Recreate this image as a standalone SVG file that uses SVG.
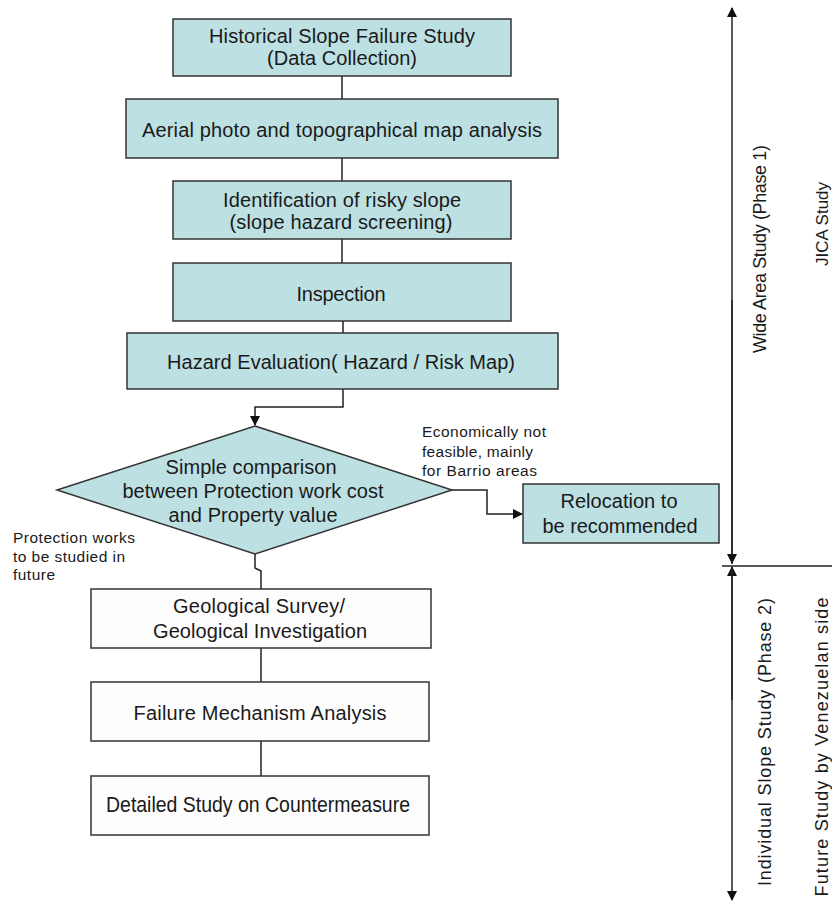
<svg xmlns="http://www.w3.org/2000/svg" width="832" height="902" viewBox="0 0 832 902">
<style>
.box{fill:#bde0e3;stroke:#333;stroke-width:1.5}
.wbox{fill:#fdfdfd;stroke:#333;stroke-width:1.5}
.t{font-family:"Liberation Sans",Arial,sans-serif;font-size:20px;fill:#1a1a1a;text-anchor:middle}
.s{font-family:"Liberation Sans",Arial,sans-serif;font-size:15.5px;fill:#1a1a1a}
.r{font-family:"Liberation Sans",Arial,sans-serif;font-size:18px;fill:#1a1a1a;text-anchor:middle}
.c{fill:none;stroke:#222;stroke-width:1.5}
</style>
<defs>
<marker id="ah" markerWidth="10" markerHeight="10" refX="9" refY="5" orient="auto" markerUnits="userSpaceOnUse">
<path d="M0,0 L10,5 L0,10 Z" fill="#111"/>
</marker>
</defs>
<rect width="832" height="902" fill="#fff"/>
<g id="connectors">
<line class="c" x1="342" y1="76" x2="342" y2="99"/>
<line class="c" x1="342" y1="158" x2="342" y2="181"/>
<line class="c" x1="342" y1="239" x2="342" y2="263"/>
<line class="c" x1="343" y1="321" x2="343" y2="333"/>
<polyline class="c" points="343,389 343,407 255,407 255,425" marker-end="url(#ah)"/>
<polyline class="c" points="452,490 487,490 487,514 522,514" marker-end="url(#ah)"/>
<polyline class="c" points="255,554 255,568 261,571 261,589"/>
<line class="c" x1="261" y1="648" x2="261" y2="682"/>
<line class="c" x1="261" y1="741" x2="261" y2="776"/>
<line class="c" x1="732" y1="564" x2="732" y2="8" marker-end="url(#ah)"/>
<line class="c" x1="732" y1="300" x2="732" y2="563" marker-end="url(#ah)"/>
<line class="c" x1="732" y1="700" x2="732" y2="567" marker-end="url(#ah)"/>
<line class="c" x1="732" y1="568" x2="732" y2="900" marker-end="url(#ah)"/>
<line class="c" x1="722" y1="566" x2="832" y2="566"/>
</g>
<g id="n1"><rect class="box" x="173" y="19" width="338" height="57"/>
<text class="t" x="342" y="43" textLength="266">Historical Slope Failure Study</text>
<text class="t" x="342" y="65" textLength="150">(Data Collection)</text></g>
<g id="n2"><rect class="box" x="126" y="99" width="432" height="59"/>
<text class="t" x="342" y="137" textLength="400">Aerial photo and topographical map analysis</text></g>
<g id="n3"><rect class="box" x="173" y="181" width="338" height="58"/>
<text class="t" x="342" y="207" textLength="238">Identification of risky slope</text>
<text class="t" x="341" y="229" textLength="223">(slope hazard screening)</text></g>
<g id="n4"><rect class="box" x="173" y="263" width="338" height="58"/>
<text class="t" x="341" y="301" textLength="89">Inspection</text></g>
<g id="n5"><rect class="box" x="127" y="333" width="431" height="56"/>
<text class="t" x="341" y="369" textLength="348">Hazard Evaluation( Hazard / Risk Map)</text></g>
<g id="n6"><polygon class="box" points="255,426 452,490 255,554 57,490"/>
<text class="t" x="251" y="474" textLength="171">Simple comparison</text>
<text class="t" x="253" y="498" textLength="261">between Protection work cost</text>
<text class="t" x="253" y="522" textLength="169">and Property value</text></g>
<g id="n7"><rect class="box" x="523" y="484" width="196" height="59"/>
<text class="t" x="619" y="508" textLength="117">Relocation to</text>
<text class="t" x="620" y="533" textLength="155">be recommended</text></g>
<g id="n8"><rect class="wbox" x="91" y="589" width="340" height="59"/>
<text class="t" x="259" y="613" textLength="172">Geological Survey/</text>
<text class="t" x="260" y="638" textLength="214">Geological Investigation</text></g>
<g id="n9"><rect class="wbox" x="91" y="682" width="338" height="59"/>
<text class="t" x="260" y="720" textLength="253">Failure Mechanism Analysis</text></g>
<g id="n10"><rect class="wbox" x="91" y="776" width="338" height="59"/>
<text class="t" x="258" y="812" style="font-size:22px" textLength="304" lengthAdjust="spacingAndGlyphs">Detailed Study on Countermeasure</text></g>
<g id="labels">
<text class="s" x="422" y="437" textLength="124">Economically not</text>
<text class="s" x="422" y="457" textLength="111">feasible, mainly</text>
<text class="s" x="422" y="476" textLength="115">for Barrio areas</text>
<text class="s" x="13" y="543" textLength="122">Protection works</text>
<text class="s" x="13" y="562" textLength="112">to be studied in</text>
<text class="s" x="13" y="580" textLength="42">future</text>
<text class="r" transform="translate(766,249) rotate(-90)" textLength="208">Wide Area Study (Phase 1)</text>
<text class="r" transform="translate(828,224) rotate(-90)" style="font-size:17px">JICA Study</text>
<text class="r" transform="translate(771,742) rotate(-90)" textLength="288">Individual Slope Study (Phase 2)</text>
<text class="r" transform="translate(828,747) rotate(-90)" textLength="299">Future Study by Venezuelan side</text>
</g>
</svg>
